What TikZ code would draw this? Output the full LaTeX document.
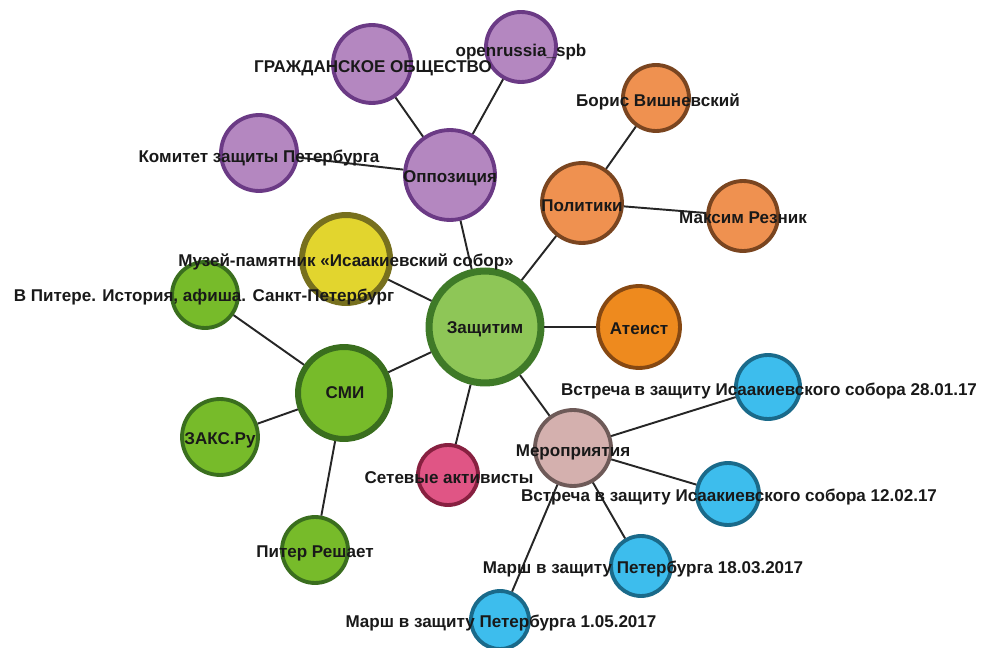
\documentclass[tikz,border=0pt]{standalone}
\usepackage{fontspec}
\setmainfont{Liberation Sans}
\newcommand*{\xMax}{1008}
\newcommand*{\yMax}{648}
\definecolor{hubFill}{HTML}{8EC657}
\definecolor{hubLine}{HTML}{3F7A28}
\definecolor{oppFill}{HTML}{B487C0}
\definecolor{oppLine}{HTML}{6B3A85}
\definecolor{polFill}{HTML}{EF9150}
\definecolor{polLine}{HTML}{7A4520}
\definecolor{ateFill}{HTML}{EE8A1E}
\definecolor{ateLine}{HTML}{864812}
\definecolor{smiFill}{HTML}{77BB2A}
\definecolor{smiLine}{HTML}{3A6E1E}
\definecolor{muzFill}{HTML}{E2D52E}
\definecolor{muzLine}{HTML}{77701E}
\definecolor{setFill}{HTML}{E05585}
\definecolor{setLine}{HTML}{872040}
\definecolor{merFill}{HTML}{D4B0AE}
\definecolor{merLine}{HTML}{6E5A58}
\definecolor{vstrFill}{HTML}{3DBDED}
\definecolor{vstrLine}{HTML}{1A6A8A}
\tikzset{
  vert/.style={circle, inner sep=0pt, minimum size=#1*0.04cm, line width=2.2pt},
  hub/.style={fill=hubFill, draw=hubLine, line width=4pt},
  opp/.style={fill=oppFill, draw=oppLine},
  pol/.style={fill=polFill, draw=polLine},
  ate/.style={fill=ateFill, draw=ateLine},
  smi/.style={fill=smiFill, draw=smiLine},
  muz/.style={fill=muzFill, draw=muzLine, line width=3.4pt},
  setev/.style={fill=setFill, draw=setLine},
  mer/.style={fill=merFill, draw=merLine},
  vstr/.style={fill=vstrFill, draw=vstrLine},
  lbl/.style={font=\fontsize{9.7}{11}\selectfont\bfseries, text=black!90, inner sep=0pt},
  link/.style={line width=1.1pt, black!85}
}
\begin{document}
\begin{tikzpicture}[x=0.02cm, y=-0.02cm]
  \useasboundingbox (0,0) rectangle (\xMax,\yMax);
  % circles
  \node[vert=56, hub] (zashchitim) at (485,327) {};
  \node[vert=45, opp] (oppozitsiya) at (450,175) {};
  \node[vert=39, opp] (grazhd) at (372,64) {};
  \node[vert=35, opp] (openrussia) at (521,47) {};
  \node[vert=38, opp] (komitet) at (259,153) {};
  \node[vert=40, pol] (politiki) at (582,203) {};
  \node[vert=33, pol] (boris) at (656,98) {};
  \node[vert=35, pol] (maksim) at (743,216) {};
  \node[vert=41, ate] (ateist) at (639,327) {};
  \node[vert=44, muz] (muzey) at (346,259) {};
  \node[vert=46, smi, line width=3.4pt] (smi) at (344,393) {};
  \node[vert=33, smi] (vpitere) at (205,295) {};
  \node[vert=38, smi] (zaks) at (220,437) {};
  \node[vert=33, smi] (piter) at (315,550) {};
  \node[vert=30, setev] (setevye) at (448,475) {};
  \node[vert=38, mer] (meropr) at (573,448) {};
  \node[vert=32, vstr] (vstrecha1) at (768,387) {};
  \node[vert=31, vstr] (vstrecha2) at (728,494) {};
  \node[vert=30, vstr] (marsh1) at (641,566) {};
  \node[vert=29, vstr] (marsh2) at (500,620) {};
  % links
  \foreach \a/\b in {zashchitim/oppozitsiya, zashchitim/politiki, zashchitim/ateist,
      zashchitim/meropr, zashchitim/setevye, zashchitim/smi, zashchitim/muzey,
      oppozitsiya/grazhd, oppozitsiya/openrussia, oppozitsiya/komitet,
      politiki/boris, politiki/maksim,
      smi/vpitere, smi/zaks, smi/piter,
      meropr/vstrecha1, meropr/vstrecha2, meropr/marsh1, meropr/marsh2} {
    \draw[link] (\a) -- (\b);
  }
  % labels
  \node[lbl] (lZashchitim) at (485,329) {Защитим};
  \node[lbl] (lOppozitsiya) at (450,178) {Оппозиция};
  \node[lbl] (lGrazhd) at (373,68) {ГРАЖДАНСКОЕ ОБЩЕСТВО};
  \node[lbl] (lOpenrussia) at (521,52) {openrussia\_spb};
  \node[lbl] (lKomitet) at (259,158) {Комитет защиты Петербурга};
  \node[lbl] (lPolitiki) at (582,206) {Политики};
  \node[lbl] (lBoris) at (658,102) {Борис Вишневский};
  \node[lbl] (lMaksim) at (743,218) {Максим Резник};
  \node[lbl] (lAteist) at (639,329) {Атеист};
  \node[lbl] (lMuzey) at (346,262) {Музей-памятник «Исаакиевский собор»};
  \node[lbl] (lSmi) at (345,393) {СМИ};
  \node[lbl] (lVpitere) at (204,297) {В Питере. История, афиша. Санкт-Петербург};
  \node[lbl] (lZaks) at (220,440) {ЗАКС.Ру};
  \node[lbl] (lPiter) at (315,553) {Питер Решает};
  \node[lbl] (lSetevye) at (449,478) {Сетевые активисты};
  \node[lbl] (lMeropr) at (573,452) {Мероприятия};
  \node[lbl] (lVstrecha1) at (769,391) {Встреча в защиту Исаакиевского собора 28.01.17};
  \node[lbl] (lVstrecha2) at (729,497) {Встреча в защиту Исаакиевского собора 12.02.17};
  \node[lbl] (lMarsh1) at (643,569) {Марш в защиту Петербурга 18.03.2017};
  \node[lbl] (lMarsh2) at (501,623) {Марш в защиту Петербурга 1.05.2017};
\end{tikzpicture}
\end{document}
